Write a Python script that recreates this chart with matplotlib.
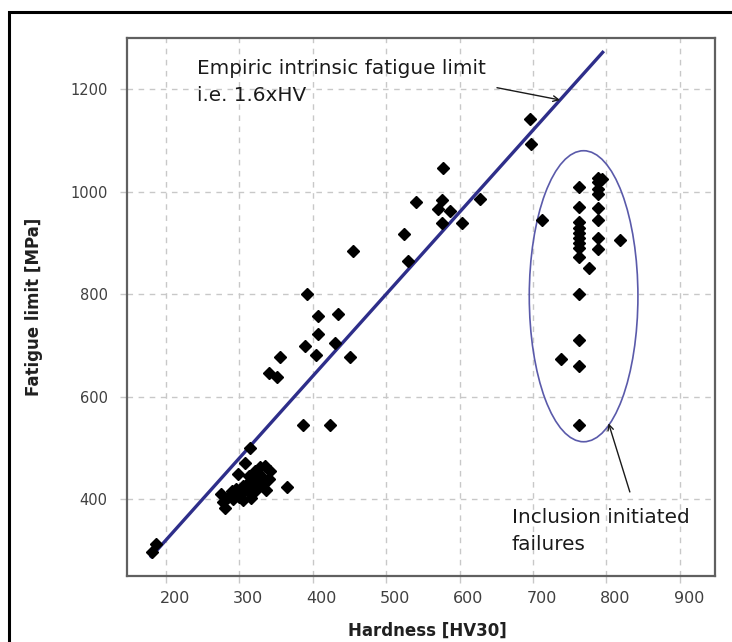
import matplotlib
matplotlib.use("Agg")
import matplotlib.pyplot as plt
import matplotlib.transforms as mtransforms
from matplotlib.patches import Ellipse, Rectangle

# ---- data -------------------------------------------------------------
hv_main = [181, 186,
           275, 278, 280, 285, 290, 292, 295, 298, 300, 303, 305, 305, 308, 310,
           312, 313, 315, 316, 318, 320, 322, 323, 325, 328, 330, 332, 335, 337,
           340, 342, 365,
           340, 351, 355, 387, 423,
           389, 404, 407, 407, 392, 430, 434, 451, 455,
           524, 530, 541, 571, 576, 576, 577, 587, 604, 628,
           696, 697]
fl_main = [297, 313,
           410, 395, 382, 405, 415, 400, 420, 450, 405, 412, 425, 398, 470, 430,
           415, 445, 500, 402, 425, 440, 455, 418, 430, 462, 445, 428, 465, 418,
           440, 455, 423,
           647, 638, 677, 544, 544,
           698, 682, 723, 757, 801, 704, 762, 677, 885,
           918, 864, 979, 967, 983, 938, 1047, 963, 938, 986,
           1142, 1094]

hv_incl = [713, 763, 763, 763, 763, 763, 763, 763, 763, 763, 777,
           788, 788, 788, 788, 788, 788, 788, 788, 794, 818,
           763, 763, 738, 763, 763]
fl_incl = [945, 1010, 970, 940, 930, 920, 910, 900, 890, 872, 852,
           1027, 1018, 1006, 996, 969, 944, 910, 889, 1025, 905,
           801, 710, 673, 659, 544]

line_hv = [180, 795]
line_factor = 1.6

x_ticks = [200, 300, 400, 500, 600, 700, 800, 900]
y_ticks = [400, 600, 800, 1000, 1200]

# ---- figure -----------------------------------------------------------
fig = plt.figure(figsize=(7.32, 6.42), dpi=100)
fig.patch.set_facecolor("white")

# outer frame (only left and top visible in the reference)
fig.patches.append(Rectangle((9 / 732, -0.2), 2.0, 1.2 - 12 / 642,
                             transform=fig.transFigure, fill=False,
                             edgecolor="black", linewidth=2.2, zorder=0))

ax = fig.add_axes([127 / 732, 66 / 642, 588 / 732, 538 / 642])
ax.set_xlim(147, 948)
ax.set_ylim(250, 1300)

ax.set_xticks(x_ticks)
ax.set_yticks(y_ticks)
ax.grid(True, color="#c8c8c8", linestyle=(0, (4, 4)), linewidth=1.0)
ax.set_axisbelow(True)

for s in ax.spines.values():
    s.set_color("#606060")
    s.set_linewidth(1.6)

ax.tick_params(axis="both", direction="out", length=5, width=1,
               color="#c8c8c8", labelcolor="#404040")
ax.tick_params(axis="y", labelsize=10.5, pad=9)
ax.tick_params(axis="x", labelsize=11.5, pad=6)
for lab in ax.get_xticklabels():
    lab.set_family(["Liberation Sans Narrow", "DejaVu Sans"])
    lab.set_transform(lab.get_transform() +
                      mtransforms.ScaledTranslation(9 / 100, 0, fig.dpi_scale_trans))

# fitted line 1.6 x HV
ax.plot(line_hv, [line_factor * v for v in line_hv], color="#2e2e8a",
        linewidth=2.4, zorder=2)

# data points
ax.plot(hv_main, fl_main, linestyle="none", marker="D", markersize=6.3,
        color="black", zorder=3)
ax.plot(hv_incl, fl_incl, linestyle="none", marker="D", markersize=6.3,
        color="black", zorder=3)

# ellipse around inclusion-initiated failures
ax.add_patch(Ellipse((769, 796), 148, 568, fill=False, edgecolor="#5a5aaa",
                     linewidth=1.2, zorder=2))

# annotations
ax.text(242, 1259, "Empiric intrinsic fatigue limit\ni.e. 1.6xHV",
        fontsize=14.4, color="#1a1a1a", va="top", ha="left", linespacing=1.5)
ax.annotate("", xy=(737, 1179), xytext=(651, 1203),
            arrowprops=dict(arrowstyle="->", color="#1a1a1a", lw=1.0,
                            shrinkA=0, shrinkB=0))
ax.text(671, 382, "Inclusion initiated\nfailures",
        fontsize=14.4, color="#1a1a1a", va="top", ha="left", linespacing=1.5)
ax.annotate("", xy=(803, 548), xytext=(832, 414),
            arrowprops=dict(arrowstyle="->", color="#1a1a1a", lw=1.0,
                            shrinkA=0, shrinkB=0))

ax.set_xlabel("Hardness [HV30]", fontsize=12, fontweight="bold",
              color="#202020", family=["Liberation Sans Narrow", "DejaVu Sans"])
ax.set_ylabel("Fatigue limit [MPa]", fontsize=12, fontweight="bold",
              color="#202020")
ax.xaxis.set_label_coords(0.51, -0.085)
ax.yaxis.set_label_coords(-0.143, 0.5)

fig.savefig("out.png", dpi=100, facecolor="white")
